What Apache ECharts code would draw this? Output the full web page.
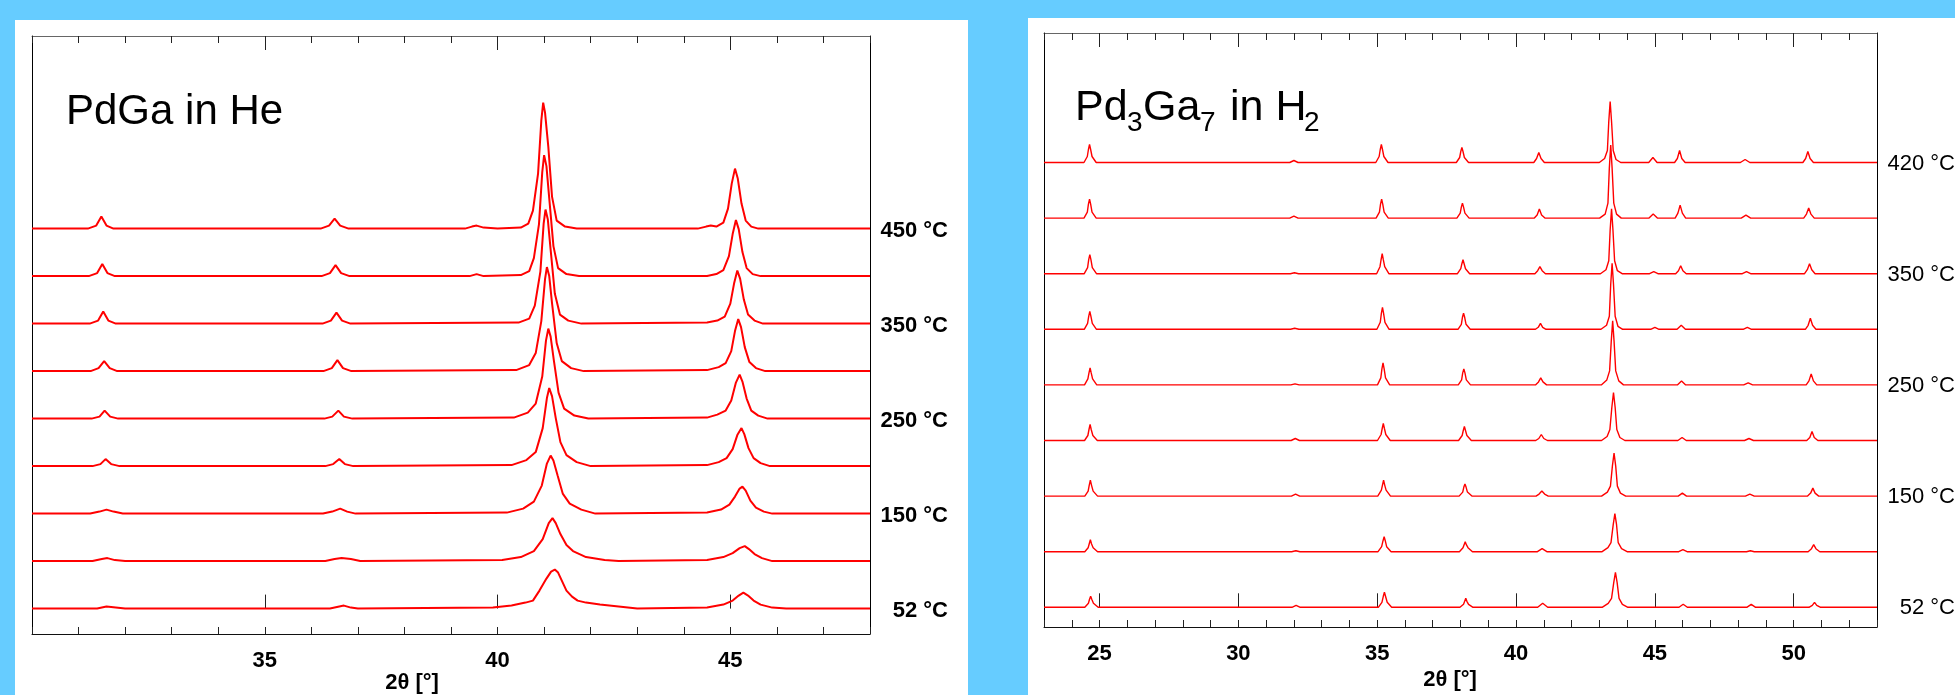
<!DOCTYPE html>
<html>
<head>
<meta charset="utf-8">
<title>In situ XRD: PdGa in He, Pd3Ga7 in H2</title>
<script src="https://cdn.jsdelivr.net/npm/echarts@6.0.0/dist/echarts.min.js"></script>
<style>
  html, body { margin: 0; padding: 0; background: #66ccff; }
  #main { width: 1955px; height: 695px; }
</style>
</head>
<body>
<div id="main"></div>
<script>
"use strict";

// ---- PdGa in He: 2theta [deg], intensity [a.u.], bottom (52 °C) to top (450 °C)
const pdgaLabels = ["52 °C", "", "150 °C", "", "250 °C", "", "350 °C", "", "450 °C"];
const pdgaStep = 47.5; // vertical offset between patterns
const pdgaTicks = [35, 40, 45];

const pdga052 = [
  [30, 0], [31.4, 0], [31.6, 2], [31.8, 1], [32.0, 0],
  [36.4, 0], [36.6, 2], [36.7, 3], [36.85, 1], [37.0, 0],
  [39.9, 1], [40.3, 3], [40.6, 6], [40.76, 8], [40.9, 18], [41.05, 30], [41.15, 37], [41.23, 39],
  [41.3, 36], [41.36, 30], [41.48, 18], [41.6, 12], [41.72, 8], [41.9, 6], [42.2, 4], [42.6, 2], [43.0, 0],
  [44.5, 1], [44.85, 4], [45.05, 8], [45.18, 13], [45.28, 16], [45.38, 13], [45.5, 8], [45.65, 4],
  [45.9, 1], [46.2, 0], [48, 0],
];
const pdga100 = [
  [30, 0], [31.3, 0], [31.5, 2], [31.62, 3], [31.78, 1], [32.0, 0],
  [36.3, 0], [36.5, 2], [36.65, 3], [36.85, 2], [37.05, 0],
  [40.1, 1], [40.5, 4], [40.78, 10], [40.97, 22], [41.1, 38], [41.18, 43], [41.25, 38], [41.35, 27],
  [41.48, 16], [41.62, 10], [41.9, 4], [42.3, 1], [42.6, 0],
  [44.5, 1], [44.85, 4], [45.05, 8], [45.2, 13], [45.31, 15], [45.4, 12], [45.52, 7], [45.68, 3],
  [45.9, 0], [48, 0],
];
const pdga150 = [
  [30, 0], [31.25, 0], [31.45, 2], [31.6, 4], [31.75, 2], [31.95, 0],
  [36.25, 0], [36.45, 2], [36.62, 5], [36.77, 2], [36.95, 0],
  [40.2, 1], [40.55, 5], [40.78, 12], [40.95, 28], [41.06, 50], [41.14, 58], [41.2, 53], [41.29, 38],
  [41.4, 20], [41.55, 10], [41.8, 4], [42.1, 0],
  [44.5, 1], [44.8, 4], [44.98, 9], [45.1, 17], [45.2, 25], [45.26, 27], [45.33, 23], [45.43, 13],
  [45.55, 6], [45.72, 2], [45.9, 0], [48, 0],
];
const pdga200 = [
  [30, 0], [31.3, 0], [31.47, 2], [31.58, 7], [31.7, 2], [31.88, 0],
  [36.3, 0], [36.47, 2], [36.6, 7], [36.72, 2], [36.9, 0],
  [40.3, 1], [40.62, 6], [40.82, 14], [40.97, 38], [41.06, 68], [41.11, 78], [41.17, 70], [41.25, 48],
  [41.35, 24], [41.48, 11], [41.7, 4], [42.0, 0],
  [44.5, 1], [44.75, 4], [44.92, 8], [45.05, 17], [45.15, 31], [45.24, 38], [45.3, 32], [45.39, 18],
  [45.5, 8], [45.65, 3], [45.85, 0], [48, 0],
];
const pdga250 = [
  [30, 0], [31.28, 0], [31.45, 2], [31.56, 8], [31.68, 2], [31.85, 0],
  [36.28, 0], [36.45, 2], [36.58, 8], [36.7, 2], [36.88, 0],
  [40.35, 1], [40.65, 6], [40.82, 15], [40.96, 42], [41.04, 78], [41.09, 90], [41.14, 82], [41.21, 58],
  [41.31, 26], [41.43, 10], [41.65, 3], [41.95, 0],
  [44.5, 1], [44.72, 4], [44.9, 8], [45.02, 18], [45.12, 36], [45.2, 44], [45.26, 37], [45.35, 20],
  [45.45, 8], [45.6, 3], [45.8, 0], [48, 0],
];
const pdga300 = [
  [30, 0], [31.26, 0], [31.43, 3], [31.55, 10], [31.67, 3], [31.83, 0],
  [36.26, 0], [36.44, 3], [36.56, 11], [36.68, 3], [36.86, 0],
  [40.4, 1], [40.68, 6], [40.82, 18], [40.94, 50], [41.02, 92], [41.06, 104], [41.11, 95], [41.17, 68],
  [41.27, 28], [41.38, 10], [41.58, 3], [41.85, 0],
  [44.5, 1], [44.75, 4], [44.9, 8], [45.02, 20], [45.1, 40], [45.17, 52], [45.23, 44], [45.31, 24],
  [45.41, 9], [45.55, 3], [45.75, 0], [48, 0],
];
const pdga350 = [
  [30, 0], [31.24, 0], [31.42, 3], [31.53, 12], [31.64, 3], [31.8, 0],
  [36.24, 0], [36.42, 3], [36.54, 11], [36.66, 3], [36.84, 0],
  [40.45, 1], [40.68, 5], [40.8, 18], [40.92, 52], [40.99, 100], [41.03, 114], [41.08, 104], [41.14, 74],
  [41.23, 30], [41.34, 9], [41.52, 3], [41.8, 0],
  [44.5, 1], [44.72, 3], [44.88, 7], [45.0, 20], [45.08, 40], [45.15, 53], [45.21, 45], [45.29, 24],
  [45.38, 9], [45.52, 3], [45.7, 0], [48, 0],
];
const pdga400 = [
  [30, 0], [31.22, 0], [31.4, 3], [31.51, 12], [31.62, 3], [31.78, 0],
  [36.22, 0], [36.4, 3], [36.52, 11], [36.64, 3], [36.82, 0],
  [39.4, 0], [39.55, 2], [39.7, 0],
  [40.5, 1], [40.68, 5], [40.78, 18], [40.89, 52], [40.96, 104], [41.0, 121], [41.05, 110], [41.11, 78],
  [41.2, 30], [41.3, 8], [41.48, 2], [41.75, 0],
  [44.5, 0], [44.7, 2], [44.85, 6], [44.97, 20], [45.05, 42], [45.12, 56], [45.18, 47], [45.26, 24],
  [45.35, 8], [45.48, 2], [45.65, 0], [48, 0],
];
const pdga450 = [
  [30, 0], [31.2, 0], [31.38, 3], [31.49, 12], [31.6, 3], [31.75, 0],
  [36.2, 0], [36.38, 3], [36.5, 10], [36.62, 3], [36.8, 0],
  [39.3, 0], [39.45, 2], [39.55, 3], [39.7, 1], [40.0, 0],
  [40.5, 1], [40.66, 5], [40.76, 18], [40.87, 55], [40.94, 108], [40.98, 126], [41.02, 116], [41.09, 82],
  [41.17, 32], [41.27, 8], [41.45, 2], [41.7, 0],
  [44.3, 0], [44.48, 2], [44.58, 3], [44.7, 2], [44.85, 6], [44.95, 20], [45.03, 45], [45.1, 60],
  [45.16, 50], [45.24, 25], [45.33, 8], [45.45, 2], [45.6, 0], [48, 0],
];
const pdgaPatterns = [pdga052, pdga100, pdga150, pdga200, pdga250, pdga300, pdga350, pdga400, pdga450];

// ---- Pd3Ga7 in H2: bottom (52 °C) to top (420 °C)
const pd3ga7Labels = ["52 °C", "", "150 °C", "", "250 °C", "", "350 °C", "", "420 °C"];
const pd3ga7Step = 55.6;
const pd3ga7Ticks = [25, 30, 35, 40, 45, 50];

const pd3ga7_0 = [
  [23, 0],
  [24.47, 0], [24.6, 4], [24.64, 8], [24.68, 11], [24.72, 8], [24.78, 4], [24.95, 0],
  [31.93, 0], [32.08, 2], [32.23, 0],
  [35.04, 0], [35.17, 5], [35.22, 11], [35.26, 15], [35.3, 11], [35.36, 5], [35.52, 0],
  [37.98, 0], [38.11, 3], [38.15, 6], [38.19, 9], [38.23, 6], [38.29, 3], [38.45, 0],
  [40.78, 0], [40.96, 4], [41.14, 0],
  [43.1, 0], [43.32, 4], [43.44, 9], [43.52, 25], [43.58, 35], [43.64, 25], [43.71, 9], [43.83, 3], [44.03, 0],
  [45.87, 0], [46.02, 3], [46.17, 0],
  [48.31, 0], [48.47, 3], [48.63, 0],
  [50.55, 0], [50.67, 2], [50.75, 5], [50.83, 2], [50.97, 0],
  [53, 0],
];
const pd3ga7_1 = [
  [23, 0],
  [24.47, 0], [24.59, 4], [24.63, 8], [24.67, 12], [24.71, 8], [24.77, 4], [24.93, 0],
  [31.92, 0], [32.07, 1], [32.22, 0],
  [35.03, 0], [35.16, 5], [35.21, 11], [35.25, 15], [35.29, 11], [35.34, 5], [35.5, 0],
  [37.96, 0], [38.09, 4], [38.13, 7], [38.17, 10], [38.21, 7], [38.27, 4], [38.43, 0],
  [40.77, 0], [40.94, 3], [41.11, 0],
  [43.1, 0], [43.31, 4], [43.42, 9], [43.5, 27], [43.56, 38], [43.62, 27], [43.68, 9], [43.8, 3], [44.0, 0],
  [45.86, 0], [46.01, 2], [46.16, 0],
  [48.3, 0], [48.44, 1], [48.58, 0],
  [50.52, 0], [50.64, 3], [50.72, 7], [50.8, 3], [50.94, 0],
  [53, 0],
];
const pd3ga7_2 = [
  [23, 0],
  [24.47, 0], [24.59, 5], [24.63, 11], [24.67, 16], [24.71, 11], [24.77, 5], [24.93, 0],
  [31.91, 0], [32.06, 2], [32.21, 0],
  [35.02, 0], [35.15, 6], [35.19, 11], [35.23, 16], [35.27, 11], [35.32, 6], [35.48, 0],
  [37.95, 0], [38.08, 4], [38.12, 9], [38.16, 12], [38.2, 9], [38.25, 4], [38.41, 0],
  [40.72, 0], [40.83, 2], [40.93, 5], [41.03, 2], [41.16, 0],
  [43.08, 0], [43.29, 4], [43.4, 10], [43.47, 30], [43.53, 43], [43.59, 30], [43.65, 10], [43.76, 3], [43.95, 0],
  [45.84, 0], [45.99, 3], [46.14, 0],
  [48.26, 0], [48.42, 2], [48.58, 0],
  [50.5, 0], [50.61, 3], [50.69, 8], [50.77, 3], [50.9, 0],
  [53, 0],
];
const pd3ga7_3 = [
  [23, 0],
  [24.46, 0], [24.58, 5], [24.62, 11], [24.66, 16], [24.7, 11], [24.76, 5], [24.92, 0],
  [31.9, 0], [32.05, 2], [32.2, 0],
  [35.01, 0], [35.14, 6], [35.18, 12], [35.22, 17], [35.26, 12], [35.31, 6], [35.47, 0],
  [37.93, 0], [38.06, 5], [38.1, 10], [38.14, 14], [38.18, 10], [38.23, 5], [38.39, 0],
  [40.71, 0], [40.82, 2], [40.91, 6], [41.0, 2], [41.13, 0],
  [43.08, 0], [43.28, 4], [43.38, 11], [43.45, 33], [43.51, 48], [43.57, 33], [43.63, 11], [43.74, 3], [43.92, 0],
  [45.83, 0], [45.98, 3], [46.13, 0],
  [48.23, 0], [48.39, 2], [48.55, 0],
  [50.47, 0], [50.58, 3], [50.66, 9], [50.74, 3], [50.87, 0],
  [53, 0],
];
const pd3ga7_4 = [
  [23, 0],
  [24.46, 0], [24.58, 6], [24.62, 12], [24.66, 17], [24.7, 12], [24.75, 6], [24.9, 0],
  [31.89, 0], [32.04, 1], [32.19, 0],
  [35.01, 0], [35.13, 7], [35.17, 16], [35.21, 22], [35.25, 16], [35.3, 7], [35.45, 0],
  [37.92, 0], [38.04, 5], [38.08, 12], [38.12, 16], [38.16, 12], [38.21, 5], [38.36, 0],
  [40.7, 0], [40.81, 3], [40.89, 7], [40.97, 3], [41.1, 0],
  [43.07, 0], [43.27, 5], [43.37, 14], [43.43, 44], [43.48, 64], [43.53, 44], [43.59, 14], [43.7, 4], [43.87, 0],
  [45.81, 0], [45.96, 4], [46.11, 0],
  [48.2, 0], [48.36, 2], [48.52, 0],
  [50.45, 0], [50.55, 4], [50.63, 11], [50.71, 4], [50.83, 0],
  [53, 0],
];
const pd3ga7_5 = [
  [23, 0],
  [24.45, 0], [24.57, 6], [24.61, 13], [24.65, 18], [24.69, 13], [24.74, 6], [24.89, 0],
  [31.88, 0], [32.03, 1], [32.18, 0],
  [34.99, 0], [35.11, 7], [35.15, 16], [35.19, 22], [35.23, 16], [35.28, 7], [35.43, 0],
  [37.91, 0], [38.03, 5], [38.07, 12], [38.11, 16], [38.15, 12], [38.2, 5], [38.35, 0],
  [40.7, 0], [40.8, 2], [40.88, 6], [40.96, 2], [41.08, 0],
  [43.06, 0], [43.26, 4], [43.36, 13], [43.41, 45], [43.46, 66], [43.51, 45], [43.57, 13], [43.67, 3], [43.84, 0],
  [44.85, 0], [45.0, 2], [45.15, 0],
  [45.8, 0], [45.95, 4], [46.1, 0],
  [48.18, 0], [48.33, 2], [48.48, 0],
  [50.42, 0], [50.52, 4], [50.6, 11], [50.68, 4], [50.8, 0],
  [53, 0],
];
const pd3ga7_6 = [
  [23, 0],
  [24.45, 0], [24.57, 6], [24.61, 14], [24.65, 19], [24.69, 14], [24.74, 6], [24.89, 0],
  [31.87, 0], [32.02, 1], [32.17, 0],
  [34.98, 0], [35.1, 7], [35.14, 14], [35.18, 20], [35.22, 14], [35.27, 7], [35.42, 0],
  [37.89, 0], [38.01, 5], [38.05, 10], [38.09, 14], [38.13, 10], [38.18, 5], [38.33, 0],
  [40.68, 0], [40.78, 3], [40.86, 7], [40.94, 3], [41.06, 0],
  [43.04, 0], [43.24, 4], [43.34, 13], [43.39, 44], [43.44, 65], [43.49, 44], [43.55, 13], [43.65, 3], [43.82, 0],
  [44.81, 0], [44.96, 2], [45.11, 0],
  [45.75, 0], [45.85, 3], [45.93, 8], [46.01, 3], [46.13, 0],
  [48.15, 0], [48.3, 2], [48.45, 0],
  [50.39, 0], [50.49, 4], [50.57, 10], [50.65, 4], [50.77, 0],
  [53, 0],
];
const pd3ga7_7 = [
  [23, 0],
  [24.44, 0], [24.56, 6], [24.6, 14], [24.64, 19], [24.68, 14], [24.73, 6], [24.88, 0],
  [31.85, 0], [32.0, 2], [32.15, 0],
  [34.96, 0], [35.08, 6], [35.12, 14], [35.16, 19], [35.2, 14], [35.25, 6], [35.4, 0],
  [37.87, 0], [37.99, 5], [38.03, 11], [38.07, 15], [38.11, 11], [38.16, 5], [38.31, 0],
  [40.66, 0], [40.76, 3], [40.84, 9], [40.92, 3], [41.04, 0],
  [43.01, 0], [43.21, 4], [43.31, 15], [43.36, 50], [43.41, 73], [43.46, 50], [43.52, 15], [43.62, 4], [43.79, 0],
  [44.79, 0], [44.94, 4], [45.09, 0],
  [45.73, 0], [45.83, 5], [45.91, 13], [45.99, 5], [46.11, 0],
  [48.11, 0], [48.28, 3], [48.45, 0],
  [50.36, 0], [50.46, 4], [50.54, 10], [50.62, 4], [50.74, 0],
  [53, 0],
];
const pd3ga7_8 = [
  [23, 0],
  [24.44, 0], [24.56, 6], [24.6, 13], [24.64, 18], [24.68, 13], [24.73, 6], [24.88, 0],
  [31.85, 0], [32.0, 2], [32.15, 0],
  [34.95, 0], [35.07, 6], [35.11, 13], [35.15, 18], [35.19, 13], [35.24, 6], [35.39, 0],
  [37.85, 0], [37.97, 5], [38.01, 11], [38.05, 15], [38.09, 11], [38.14, 5], [38.29, 0],
  [40.64, 0], [40.74, 4], [40.82, 10], [40.9, 4], [41.02, 0],
  [43.0, 0], [43.19, 4], [43.29, 12], [43.34, 41], [43.39, 61], [43.44, 41], [43.5, 12], [43.6, 3], [43.77, 0],
  [44.78, 0], [44.93, 5], [45.08, 0],
  [45.71, 0], [45.81, 4], [45.89, 12], [45.97, 4], [46.09, 0],
  [48.08, 0], [48.25, 3], [48.42, 0],
  [50.33, 0], [50.43, 4], [50.51, 11], [50.59, 4], [50.71, 0],
  [53, 0],
];
const pd3ga7Patterns = [pd3ga7_0, pd3ga7_1, pd3ga7_2, pd3ga7_3, pd3ga7_4, pd3ga7_5, pd3ga7_6, pd3ga7_7, pd3ga7_8];

const FONT = "'Liberation Sans', Arial, Helvetica, sans-serif";
const chart = echarts.init(document.getElementById("main"));

// frame axes (minor ticks every degree) + overlay axes for the long ticks and labels
function frameAxes(gridMain, gridOver, min, max, majors) {
  const minor = {
    gridIndex: gridMain, type: "value", min: min, max: max, interval: 1,
    axisTick: { show: true, inside: true, length: 7, lineStyle: { color: "#222" } },
    axisLabel: { show: false }, splitLine: { show: false },
  };
  const major = {
    gridIndex: gridOver, type: "value", min: min, max: max,
    axisLine: { show: false },
    axisTick: { show: true, inside: true, length: 14, customValues: majors, lineStyle: { color: "#222" } },
    splitLine: { show: false },
  };
  return [
    Object.assign({}, minor, { position: "bottom", axisLine: { onZero: false, lineStyle: { color: "#111" } } }),
    Object.assign({}, minor, { position: "top", axisLine: { onZero: false, lineStyle: { color: "#666" } } }),
    Object.assign({}, major, {
      position: "bottom",
      axisLabel: { show: true, customValues: majors, margin: 16, fontFamily: FONT, fontSize: 22, fontWeight: "bold", color: "#000" },
    }),
    Object.assign({}, major, { position: "top", axisLabel: { show: false } }),
  ];
}

function sideAxes(gridMain, gridOver, min, max) {
  const side = {
    gridIndex: gridMain, type: "value", min: min, max: max,
    axisLine: { show: true, onZero: false, lineStyle: { color: "#000" } },
    axisTick: { show: false }, axisLabel: { show: false }, splitLine: { show: false },
  };
  return [
    Object.assign({}, side, { position: "left" }),
    Object.assign({}, side, { position: "right" }),
    { gridIndex: gridOver, type: "value", min: min, max: max, show: false },
  ];
}

function patternSeries(patterns, step, xIdx, yIdx, width) {
  return patterns.map((pts, i) => ({
    type: "line",
    xAxisIndex: xIdx,
    yAxisIndex: yIdx,
    data: pts.map((p) => [p[0], p[1] + i * step]),
    showSymbol: false,
    symbol: "none",
    silent: true,
    lineStyle: { color: "#ff0000", width: width },
  }));
}

const pdgaMin = -25.4, pdgaMax = 572.6;
const pd3ga7Min = -19.7, pd3ga7Max = 574.3;

chart.setOption({
  animation: false,
  backgroundColor: "#66ccff",
  grid: [
    { left: 32, top: 36, width: 838, height: 598 },
    { left: 32, top: 36, width: 838, height: 598 },
    { left: 1044, top: 33, width: 833, height: 594 },
    { left: 1044, top: 33, width: 833, height: 594 },
  ],
  xAxis: frameAxes(0, 1, 30, 48, pdgaTicks).concat(frameAxes(2, 3, 23, 53, pd3ga7Ticks)),
  yAxis: sideAxes(0, 1, pdgaMin, pdgaMax).concat(sideAxes(2, 3, pd3ga7Min, pd3ga7Max)),
  series: patternSeries(pdgaPatterns, pdgaStep, 0, 0, 2)
    .concat(patternSeries(pd3ga7Patterns, pd3ga7Step, 4, 3, 1.4)),
});

// panels, titles, temperature labels
const graphics = [
  { type: "rect", z: -100, shape: { x: 15, y: 20, width: 953, height: 700 }, style: { fill: "#fff" } },
  { type: "rect", z: -100, shape: { x: 1028, y: 18, width: 940, height: 700 }, style: { fill: "#fff" } },
];

function addText(x, y, text, size, weight, align) {
  graphics.push({
    type: "text", x: x, y: y, z: 10,
    style: { text: text, fontFamily: FONT, fontSize: size, fontWeight: weight || "normal",
      fill: "#000", align: align || "left", verticalAlign: "middle" },
  });
}

addText(66, 112, "PdGa in He", 42);
addText(1075, 108, "Pd", 43);
addText(1127, 123, "3", 28);
addText(1143, 108, "Ga", 43);
addText(1200, 123, "7", 28);
addText(1230, 108, "in H", 43);
addText(1304, 123, "2", 28);

addText(412, 683, "2θ [°]", 22, "bold", "center");
addText(1450, 680, "2θ [°]", 22, "bold", "center");

pdgaLabels.forEach((label, i) => {
  if (!label) return;
  const pt = chart.convertToPixel({ seriesIndex: i }, [48, i * pdgaStep]);
  addText(948, pt[1] + 2, label, 22, "bold", "right");
});
pd3ga7Labels.forEach((label, i) => {
  if (!label) return;
  const pt = chart.convertToPixel({ seriesIndex: pdgaPatterns.length + i }, [53, i * pd3ga7Step]);
  addText(1955, pt[1] + 1, label, 22, "normal", "right");
});

chart.setOption({ graphic: graphics });
</script>
</body>
</html>
